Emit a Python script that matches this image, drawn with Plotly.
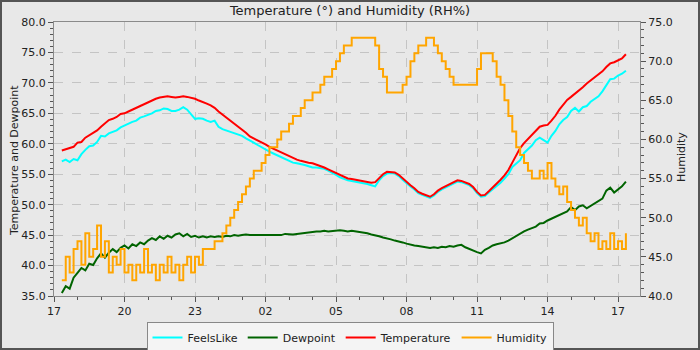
import pandas as pd
import plotly.graph_objects as go

# ---- data (10-minute samples starting 17:20) ----
start_time = "2024-01-01 17:20"
n_points = 145

temperature = [58.9, 59.1, 59.3, 59.5, 60.2, 60.3, 61.0, 61.4, 61.7, 62.2,
               62.8, 63.4, 63.9, 64.1, 64.4, 64.9, 65.0, 65.3, 65.6, 66.0,
               66.3, 66.6, 66.9, 67.2, 67.4, 67.6, 67.7, 67.8, 67.7, 67.6,
               67.7, 67.8, 67.7, 67.6, 67.4, 67.1, 66.9, 66.6, 66.3, 65.9,
               65.3, 64.8, 64.3, 63.9, 63.4, 62.8, 62.3, 61.8, 61.2, 60.9,
               60.5, 60.2, 59.9, 59.5, 59.2, 58.9, 58.5, 58.2, 57.9, 57.6,
               57.4, 57.2, 57.0, 56.9, 56.8, 56.6, 56.4, 56.1, 55.8, 55.5,
               55.2, 54.8, 54.5, 54.3, 54.2, 54.1, 54.0, 53.8, 53.7, 53.6,
               53.7, 54.4, 55.0, 55.4, 55.4, 55.3, 54.9, 54.3, 53.7, 53.2,
               52.7, 52.1, 51.8, 51.5, 51.3, 51.7, 52.3, 52.7, 53.0, 53.3,
               53.7, 54.0, 53.9, 53.7, 53.4, 52.9, 52.1, 51.5, 51.6, 52.2,
               52.8, 53.5, 54.1, 54.8, 55.7, 56.9, 58.1, 59.3, 60.1, 60.8,
               61.5, 62.1, 62.8, 63.0, 63.1, 63.8, 64.6, 65.6, 66.5, 67.2,
               67.7, 68.2, 68.7, 69.3, 69.9, 70.4, 70.9, 71.4, 71.9, 72.6,
               73.2, 73.4, 73.7, 74.0, 74.7]

feels_like = [57.1, 57.4, 57.0, 57.5, 57.3, 58.3, 59.0, 59.6, 59.7, 60.3,
              61.3, 61.2, 61.7, 61.9, 62.2, 62.7, 63.0, 63.4, 63.6, 63.8,
              64.3, 64.5, 64.7, 65.0, 65.4, 65.5, 65.8, 65.7, 65.4, 65.4,
              65.6, 66.0, 65.6, 64.9, 64.1, 64.2, 64.1, 63.8, 63.6, 63.8,
              62.8, 62.4, 62.2, 62.0, 61.8, 61.5, 61.3, 60.9, 60.6, 60.2,
              59.8, 59.4, 59.1, 58.7, 58.4, 58.1, 57.8, 57.5, 57.1, 56.9,
              56.8, 56.7, 56.5, 56.3, 56.1, 56.1, 56.0, 55.9, 55.6, 55.3,
              54.9, 54.5, 54.2, 54.0, 53.9, 53.8, 53.7, 53.5, 53.4, 53.2,
              53.0, 54.0, 54.7, 55.1, 55.2, 55.1, 54.7, 54.1, 53.5, 53.0,
              52.5, 51.9, 51.6, 51.3, 51.1, 51.5, 52.1, 52.5, 52.8, 53.1,
              53.4, 53.8, 53.7, 53.5, 53.2, 52.7, 51.9, 51.3, 51.4, 52.0,
              52.5, 53.1, 53.6, 54.3, 55.0, 56.2, 56.8, 57.3, 58.5, 59.1,
              59.7, 60.6, 61.0, 60.6, 60.2, 61.3, 62.1, 63.2, 63.9, 64.4,
              65.4, 65.9, 65.3, 66.0, 66.2, 66.9, 67.3, 67.8, 68.6, 69.6,
              70.6, 70.7, 71.2, 71.5, 72.0]

dewpoint = [35.5, 36.6, 36.2, 38.0, 38.8, 39.6, 39.2, 40.3, 40.1, 41.2,
            42.0, 41.3, 42.1, 42.7, 42.2, 42.9, 43.3, 42.8, 43.5, 43.2,
            43.8, 43.5, 44.1, 44.5, 44.2, 44.8, 44.4, 44.9, 44.6, 45.1,
            45.3, 44.8, 45.2, 44.7, 44.9, 44.6, 44.8, 44.6, 44.8, 44.7,
            44.8, 44.7, 44.9, 44.8, 45.0, 44.9, 45.0, 45.1, 45.0, 45.0,
            45.1, 45.0, 45.1, 45.0, 45.1, 45.1, 45.0, 45.2, 45.1, 45.1,
            45.2, 45.3, 45.3, 45.5, 45.5, 45.6, 45.6, 45.7, 45.6, 45.7,
            45.7, 45.8, 45.7, 45.6, 45.7, 45.6, 45.6, 45.4, 45.3, 45.1,
            45.0, 44.8, 44.6, 44.5, 44.3, 44.1, 44.0, 43.8, 43.6, 43.4,
            43.3, 43.2, 43.1, 42.9, 42.9, 43.0, 42.9, 43.1, 43.0, 43.2,
            43.1, 43.3, 43.4, 43.0, 42.7, 42.5, 42.2, 42.0, 42.6, 42.9,
            43.3, 43.5, 43.6, 43.8, 44.1, 44.5, 44.9, 45.3, 45.6, 45.9,
            46.2, 46.4, 46.9, 47.0, 47.4, 47.7, 47.9, 48.3, 48.6, 48.9,
            49.6, 49.1, 49.7, 49.9, 49.4, 49.8, 50.3, 50.6, 51.0, 52.3,
            52.8, 52.0, 52.5, 53.0, 53.8]

humidity = [42, 45, 43, 46, 47, 44, 48, 45, 46, 49,
            45, 47, 43, 45, 44, 46, 43, 44, 42, 44,
            43, 46, 43, 44, 42, 44, 43, 45, 43, 44,
            42, 44, 45, 43, 45, 44, 46, 46, 46, 47,
            47, 48, 49, 50, 51, 52, 53, 54, 55, 56,
            56, 57, 58, 59, 59, 60, 61, 61, 62, 63,
            63, 64, 65, 65, 66, 66, 67, 68, 68, 69,
            70, 71, 72, 72, 73, 73, 73, 73, 73, 73,
            72, 69, 68, 66, 66, 66, 66, 67, 68, 70,
            71, 72, 72, 73, 73, 72, 71, 70, 69, 68,
            67, 67, 67, 67, 67, 67, 69, 71, 71, 71,
            70, 68, 67, 65, 63, 61, 59, 58, 57, 56,
            55, 55, 56, 55, 57, 55, 54, 53, 54, 52,
            51, 50, 49, 50, 48, 47, 48, 46, 47, 46,
            48, 46, 47, 46, 48]

series_names = ["FeelsLike", "Dewpoint", "Temperature", "Humidity"]
series_colors = ["#00ffff", "#006400", "#ff0000", "#ffa500"]

title_text = "Temperature (°) and Humidity (RH%)"
left_title = "Temperature and Dewpoint"
right_title = "Humidity"

x_start = "2024-01-01 17:00"
x_end = "2024-01-02 17:56"

times = pd.date_range(start_time, periods=n_points, freq="10min")

# ---- figure ----
FONT = "DejaVu Sans"
BG = "#e8e8e8"
fig = go.Figure()

left_series = [feels_like, dewpoint, temperature]
for name, color, vals in zip(series_names[:3], series_colors[:3], left_series):
    fig.add_trace(go.Scatter(x=times, y=vals, name=name, mode="lines",
                             line=dict(color=color, width=2), yaxis="y"))
fig.add_trace(go.Scatter(x=times, y=humidity, name=series_names[3], mode="lines",
                         line=dict(color=series_colors[3], width=2, shape="hv"),
                         yaxis="y2"))

L, R, T, B = 54, 60, 22, 54
W, H = 700, 350
pw, ph = W - L - R, H - T - B

def px_x(p):
    return (p - L) / pw

def px_y(p):
    return (H - B - p) / ph

fig.update_layout(
    width=W, height=H,
    margin=dict(l=L, r=R, t=T, b=B, autoexpand=False),
    paper_bgcolor=BG, plot_bgcolor=BG,
    font=dict(family=FONT, size=11, color="#333333"),
    title=dict(text=title_text, x=0.5, xanchor="center", y=1 - 10 / H,
               yanchor="middle", font=dict(family=FONT, size=13, color="#222222")),
    showlegend=True,
    legend=dict(orientation="h", x=px_x(350), xanchor="center",
                y=px_y(322), yanchor="top",
                bgcolor="#f4f4f4", bordercolor="#888888", borderwidth=1,
                font=dict(family=FONT, size=11, color="#222222"),
                itemwidth=30, tracegroupgap=0),
    xaxis=dict(
        type="date", range=[x_start, x_end],
        tick0="2024-01-01 17:00", dtick=3 * 3600000, tickformat="%H",
        showgrid=True, gridcolor="#c4c4c4", griddash="dash", gridwidth=1,
        showline=True, linecolor="#8a8a8a", linewidth=1, mirror=True,
        ticks="outside", ticklen=5, tickcolor="#555555",
        minor=dict(dtick=3600000, ticks="outside", ticklen=3,
                   tickcolor="#555555", showgrid=False),
        zeroline=False, tickfont=dict(size=11, color="#222222"),
    ),
    yaxis=dict(
        range=[35, 80], dtick=5, tick0=35, tickformat=".1f",
        showgrid=True, gridcolor="#c4c4c4", griddash="dash", gridwidth=1,
        showline=True, linecolor="#8a8a8a", linewidth=1,
        ticks="outside", ticklen=5, tickcolor="#555555",
        minor=dict(dtick=1, ticks="outside", ticklen=3, tickcolor="#555555",
                   showgrid=False),
        zeroline=False, tickfont=dict(size=11, color="#222222"),
    ),
    yaxis2=dict(
        range=[40, 75], dtick=5, tick0=40, tickformat=".1f",
        overlaying="y", side="right", showgrid=False,
        showline=True, linecolor="#8a8a8a", linewidth=1,
        ticks="outside", ticklen=5, tickcolor="#555555",
        minor=dict(dtick=1, ticks="outside", ticklen=3, tickcolor="#555555"),
        zeroline=False, tickfont=dict(size=11, color="#222222"),
    ),
)

# axis titles placed as text annotations
fig.add_annotation(text=left_title, xref="paper", yref="paper",
                   x=px_x(14), y=px_y(161), textangle=-90, showarrow=False,
                   xanchor="center", yanchor="middle",
                   font=dict(family=FONT, size=11, color="#222222"))
fig.add_annotation(text=right_title, xref="paper", yref="paper",
                   x=px_x(681), y=px_y(157), textangle=-90, showarrow=False,
                   xanchor="center", yanchor="middle",
                   font=dict(family=FONT, size=11, color="#222222"))

# outer frame
fig.add_shape(type="rect", xref="paper", yref="paper",
              x0=px_x(1), x1=px_x(699), y0=px_y(349), y1=px_y(1),
              line=dict(color="#555555", width=2), fillcolor="rgba(0,0,0,0)",
              layer="above")

fig.write_html("out.html")
